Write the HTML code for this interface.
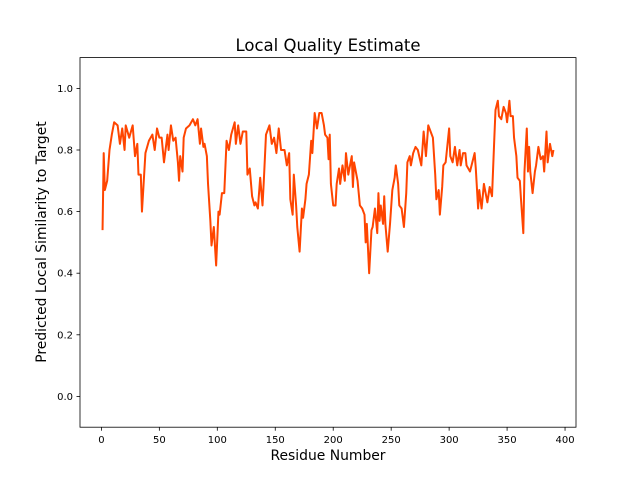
<!DOCTYPE html>
<html><head><meta charset="utf-8"><style>
body{margin:0;background:#fff}
svg text{font-family:"DejaVu Sans","Liberation Sans",sans-serif;fill:#000}
</style></head><body>
<svg id="chart" width="640" height="480" viewBox="0 0 640 480">
<rect width="640" height="480" fill="#fff"/>
<g id="ticks"></g>
<path id="line" fill="none" stroke="#ff4500" stroke-width="2" stroke-linejoin="round"/>
<rect x="80" y="57.6" width="496" height="369.6" fill="none" stroke="#000" stroke-width="0.8"/>
<text x="328" y="51" font-size="16.5" text-anchor="middle">Local Quality Estimate</text>
<text x="328" y="460" font-size="13.9" text-anchor="middle">Residue Number</text>
<text x="46" y="242" font-size="13.9" text-anchor="middle" transform="rotate(-90 46 242)">Predicted Local Similarity to Target</text>
</svg>
<script>
const residues=[1,2,3,5,7,9,11,14,16,18,20,21,24,27,29,31,32,34,35,38,41,44,46,48,50,52,54,57,58,60,62,64,66,67,68,70,71,73,76,79,81,83,85,86,88,89,91,92,94,95,97,99,101,102,104,106,108,110,112,115,116,118,120,122,125,126,128,130,132,133,135,137,139,140,142,145,147,149,151,153,155,158,160,162,163,165,166,168,169,171,173,174,176,177,179,181,182,184,186,188,190,192,193,195,196,197,198,200,202,203,205,206,208,210,211,213,215,216,217,218,221,223,225,227,228,229,231,233,234,236,238,239,240,241,243,244,245,247,249,251,253,254,256,257,259,261,263,264,266,267,269,271,273,276,278,280,282,284,286,288,289,291,292,294,295,297,300,301,303,305,307,309,310,312,314,315,318,320,322,323,325,326,328,330,331,333,335,337,339,340,342,343,345,347,349,350,352,353,355,356,358,359,361,362,364,365,367,368,369,370,372,374,375,377,379,381,382,384,385,387,388,389,390];
const scores=[0.54,0.79,0.67,0.70,0.80,0.85,0.89,0.88,0.82,0.87,0.80,0.88,0.84,0.88,0.78,0.82,0.72,0.72,0.60,0.79,0.83,0.85,0.80,0.87,0.84,0.84,0.76,0.85,0.80,0.88,0.83,0.84,0.76,0.70,0.78,0.73,0.84,0.87,0.88,0.90,0.88,0.90,0.82,0.87,0.81,0.82,0.78,0.69,0.57,0.49,0.55,0.425,0.60,0.59,0.66,0.66,0.83,0.80,0.85,0.89,0.82,0.88,0.82,0.86,0.86,0.72,0.74,0.65,0.62,0.63,0.61,0.71,0.62,0.69,0.85,0.88,0.82,0.84,0.79,0.87,0.80,0.80,0.75,0.79,0.64,0.59,0.72,0.62,0.55,0.47,0.61,0.58,0.64,0.69,0.72,0.83,0.79,0.92,0.87,0.92,0.92,0.88,0.85,0.84,0.77,0.85,0.69,0.62,0.62,0.69,0.74,0.69,0.75,0.70,0.79,0.72,0.76,0.78,0.68,0.76,0.70,0.62,0.61,0.59,0.50,0.56,0.40,0.54,0.55,0.61,0.53,0.66,0.57,0.62,0.56,0.65,0.56,0.47,0.56,0.67,0.71,0.75,0.69,0.62,0.61,0.55,0.66,0.76,0.78,0.75,0.79,0.81,0.80,0.75,0.86,0.78,0.88,0.86,0.84,0.72,0.64,0.67,0.59,0.68,0.75,0.76,0.87,0.78,0.76,0.81,0.75,0.80,0.75,0.79,0.79,0.75,0.73,0.76,0.79,0.74,0.61,0.67,0.61,0.69,0.67,0.63,0.68,0.65,0.84,0.93,0.96,0.91,0.90,0.94,0.92,0.89,0.96,0.91,0.91,0.84,0.78,0.71,0.70,0.64,0.53,0.73,0.87,0.73,0.81,0.73,0.66,0.73,0.75,0.81,0.77,0.78,0.73,0.86,0.76,0.82,0.80,0.78,0.80];
const xTicks=[0,50,100,150,200,250,300,350,400];
const yTicks=[0.0,0.2,0.4,0.6,0.8,1.0];
const X0=80,X1=576,Y0=427.2,Y1=57.6,xmin=-18.45,xmax=409.45,ymin=-0.1,ymax=1.1;
function xs(v){return X0+(v-xmin)/(xmax-xmin)*(X1-X0);}
function ys(v){return Y0-(v-ymin)/(ymax-ymin)*(Y0-Y1);}
const NS='http://www.w3.org/2000/svg';
const g=document.getElementById('ticks');
xTicks.forEach(t=>{
  const l=document.createElementNS(NS,'line');
  l.setAttribute('x1',xs(t));l.setAttribute('x2',xs(t));l.setAttribute('y1',Y0);l.setAttribute('y2',Y0+3.5);l.setAttribute('stroke','#000');l.setAttribute('stroke-width','0.8');
  
  
  g.appendChild(l);
  const tx=document.createElementNS(NS,'text');
  tx.setAttribute('x',xs(t));tx.setAttribute('y',Y0+16);tx.setAttribute('font-size','10');tx.setAttribute('text-anchor','middle');
  tx.textContent=t;
  
  
  g.appendChild(tx);
});
yTicks.forEach(t=>{
  const l=document.createElementNS(NS,'line');
  l.setAttribute('x1',X0-3.5);l.setAttribute('x2',X0);l.setAttribute('y1',ys(t));l.setAttribute('y2',ys(t));l.setAttribute('stroke','#000');l.setAttribute('stroke-width','0.8');
  
  
  g.appendChild(l);
  const tx=document.createElementNS(NS,'text');
  tx.setAttribute('x',X0-7);tx.setAttribute('y',ys(t)+3.5);tx.setAttribute('font-size','10');tx.setAttribute('text-anchor','end');
  tx.textContent=t.toFixed(1);
  
  
  g.appendChild(tx);
});
document.getElementById('line').setAttribute('d',residues.map((r,i)=>(i?'L':'M')+xs(r).toFixed(2)+' '+ys(scores[i]).toFixed(2)).join(' '));
</script>
</body></html>
